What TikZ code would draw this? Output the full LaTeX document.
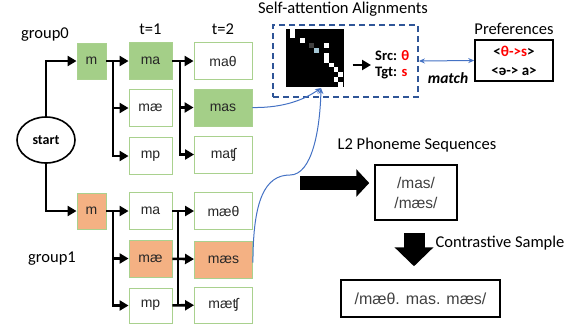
\documentclass[tikz,border=0pt]{standalone}
\usepackage{xcolor}
\usepackage{tikz}
\usepackage{fontspec}
\setmainfont{Carlito}
\newfontfamily\arial{Liberation Sans}
\usetikzlibrary{arrows.meta,positioning,shapes.geometric,calc}
\definecolor{boxGreen}{HTML}{A9D18E}
\definecolor{fillGreen}{HTML}{A4CF88}
\definecolor{fillOrange}{HTML}{F4B183}
\definecolor{linkBlue}{HTML}{4472C4}
\definecolor{dashBlue}{HTML}{2F5597}
\definecolor{srcRed}{HTML}{FF0000}

\begin{document}
\begin{tikzpicture}[
  x=1pt, y=-1pt,
  small/.style={rectangle, draw=boxGreen, line width=0.9pt, fill=white, minimum width=29pt, minimum height=36pt, inner sep=0pt, text=black!85, font=\arial\fontsize{14}{16}\selectfont},
  mid/.style={small, minimum width=43pt, minimum height=37pt},
  wide/.style={small, minimum width=58pt, minimum height=37pt},
  picked/.style={fill=fillGreen},
  pickedB/.style={fill=fillOrange},
  tree/.style={-{Triangle[length=9pt,width=10pt]}, line width=2.6pt},
  stem/.style={line width=2.6pt},
  link/.style={-{Stealth[length=6pt,width=5pt]}, draw=linkBlue, line width=1pt},
  label/.style={font=\fontsize{16.5}{19}\selectfont},
  plain/.style={rectangle, draw=black, line width=1.5pt, inner sep=0pt, align=center},
  big/.style={line width=14pt, -{Triangle[length=13pt,width=27pt]}}
]
\useasboundingbox (0,0) rectangle (576,325);

% search tree, group0
\node[label] (g0) at (45,35) {group0};
\node[ellipse, draw, line width=1.6pt, minimum width=58pt, minimum height=46pt, inner sep=0pt, font=\bfseries\fontsize{14}{16}\selectfont] (start) at (46,140) {start};
\node[small, picked] (m0) at (91.5,61) {m};
\node[mid, picked] (ma0) at (150.5,61) {ma};
\node[mid] (mae0) at (150.5,108) {mæ};
\node[mid] (mp0) at (150.5,156) {mp};
\node[wide] (math0) at (223,61) {maθ};
\node[wide, picked] (mas0) at (223,107.5) {mas};
\node[wide] (mats0) at (223.5,154.5) {maʧ};
\node[label, above=4pt of ma0] (t1) {t=1};
\node[label, above=4pt of math0] (t2) {t=2};
\coordinate (j0) at (113,61);
\coordinate (j1) at (180,61);
\draw[tree] (start.north) |- (m0.west);
\draw[tree] (m0) -- (ma0);
\draw[tree] (j0) |- (mae0.west);
\draw[tree] (j0) |- (mp0.west);
\draw[tree] (ma0) -- (math0);
\draw[tree] (j1) |- (mas0.west);
\draw[tree] (j1) |- (mats0.west);

% search tree, group1
\node[label] (g1) at (52,259) {group1};
\node[small, pickedB] (m1) at (91.5,211) {m};
\node[mid] (ma1) at (150.5,211) {ma};
\node[mid, pickedB] (mae1) at (150.5,258.5) {mæ};
\node[mid, minimum height=35pt] (mp1) at (150.5,305.5) {mp};
\node[wide] (maeth1) at (223.5,211) {mæθ};
\node[wide, pickedB] (maes1) at (223.5,259.5) {mæs};
\node[wide, minimum height=36pt] (maets1) at (223.5,305) {mæʧ};
\coordinate (j2) at (113,211);
\coordinate (j3) at (178,211);
\draw[tree] (start.south) |- (m1.west);
\draw[tree] (m1) -- (ma1);
\draw[tree] (j2) |- (mae1.west);
\draw[tree] (j2) |- (mp1.west);
\draw[stem] (j3) -- (j3 |- maets1);
\draw[tree] (ma1) -- (maeth1);
\draw[tree] (mae1) -- (maes1);
\draw[tree] (mp1) -- (maets1);

% alignments
\node[label] (attlabel) at (343,9) {Self-attention Alignments};
\node[rectangle, draw=dashBlue, dash pattern=on 6pt off 4pt, line width=1.8pt, minimum width=145pt, minimum height=72pt] (alignbox) at (345.5,61) {};
\node[fill=black, minimum size=58pt, inner sep=0pt] (att) at (314.5,58) {};
\foreach \c/\r in {1/0,1/1,3/2,8/3,8/5,8/6,9/7,10/8,11/9,10/10,11/11}
  \fill[white] ($(att.north west)+(\c*4.83,\r*4.83)$) rectangle ++(4.83,4.83);
\fill[black!75] ($(att.north west)+(5*4.83,3*4.83)$) rectangle ++(4.83,4.83);
\fill[gray!60!cyan!60] ($(att.north west)+(6*4.83,4*4.83)$) rectangle ++(4.83,4.83);
\node[anchor=west, align=left, inner sep=0pt, font=\bfseries\fontsize{14.5}{16}\selectfont] (srctgt) at (375,65) {Src: \textcolor{srcRed}{θ}\\Tgt: \textcolor{srcRed}{s}};
\draw[tree] ($(att.east |- srctgt.west)+(9,0)$) -- ([xshift=-4pt]srctgt.west);

% preferences
\node[plain, minimum width=78pt, minimum height=41pt, font=\bfseries\fontsize{15}{19}\selectfont] (pref) at (514,60.5) {<\textcolor{srcRed}{θ->s}>\\<ə-> a>};
\node[label, above=1pt of pref] (preflabel) {Preferences};
\draw[link, {Stealth[length=6pt,width=5pt]}-{Stealth[length=6pt,width=5pt]}] (alignbox.east) -- (pref.west);
\node[font=\bfseries\itshape\fontsize{15.5}{17}\selectfont] (match) at (448,78) {match};

% links from chosen paths
\coordinate (hit) at (321,88);
\draw[link] (mas0.east) .. controls (285,108) and (305,99) .. (hit);
\draw[link] ($(maes1.east)+(0,3)$) .. controls (253,200) and (265,175) .. (290,175) .. controls (312,175) and (320,130) .. (hit);

% L2 sequences and sample
\node[label] (l2label) at (417,145) {L2 Phoneme Sequences};
\node[plain, minimum width=82pt, minimum height=55pt, text=black!75, font=\arial\fontsize{15.5}{20}\selectfont] (l2) at (416,192.5) {/mas/\\/mæs/};
\coordinate (bigtail) at (300,183);
\draw[big] (bigtail) -- ($(l2.west |- bigtail)+(-5,0)$);
\node[plain, minimum width=159pt, minimum height=37pt, text=black!75, font=\arial\fontsize{16}{18}\selectfont] (sample) at (420.5,298.5) {/mæθ. mas. mæs/};
\draw[line width=21pt, -{Triangle[length=19pt,width=38pt]}] ($(l2.south)+(-2,12)$) -- ($(sample.north)+(-6.5,-13)$);
\node[label, anchor=west] (samplelabel) at (432,243) {Contrastive Sample};
\end{tikzpicture}
\end{document}
